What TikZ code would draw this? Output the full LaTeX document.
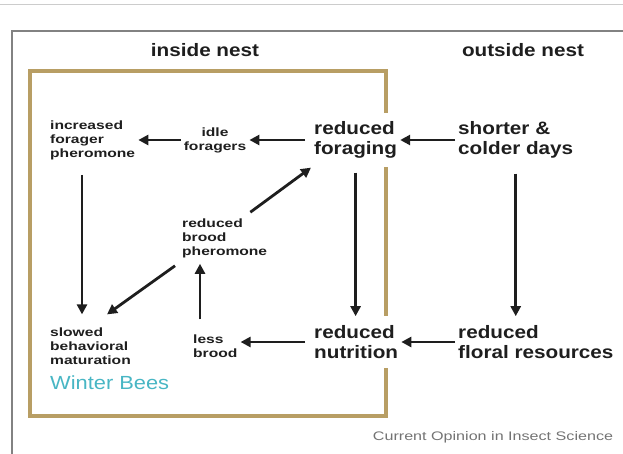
\documentclass[tikz,border=0pt]{standalone}
\usepackage{fontspec}
\setmainfont{Liberation Sans}[FakeStretch=1.15]
\newfontfamily\widesmall{Liberation Sans}[FakeStretch=1.3]
\usetikzlibrary{arrows.meta}
\definecolor{nestgold}{RGB}{184,158,100}
\definecolor{beeteal}{RGB}{72,182,196}
\definecolor{framegrey}{RGB}{130,130,130}
\definecolor{inkgrey}{RGB}{30,30,30}

\tikzset{
  big/.style={font=\fontsize{18}{20}\selectfont\bfseries, text=inkgrey, align=left, inner sep=3pt},
  small/.style={font=\widesmall\fontsize{12}{14}\selectfont\bfseries, text=inkgrey, align=left, inner sep=3pt},
  arr/.style={line width=2.8pt, draw=inkgrey, -{Triangle[length=10pt,width=10pt]}},
}

\begin{document}
\begin{tikzpicture}[x=1pt,y=-1pt]
\useasboundingbox (0,0) rectangle (623,454);
% page rule and panel frame
\draw[black!20, line width=1pt] (0,5) -- (623,5);
\draw[framegrey, line width=1.3pt] (12,454) -- (12,31) -- (623,31);
% nest box
\draw[nestgold, line width=3.8pt] (30,71) rectangle (386,416);
% headings
\node[big] (inhead) at (205,50) {inside nest};
\node[big] (outhead) at (523,50) {outside nest};
% outside nest
\node[big, anchor=west] (days) at (455,140) {shorter \&\\colder days};
\node[big, anchor=west] (floral) at (455,342) {reduced\\floral resources};
% inside nest
\node[big, anchor=west, fill=white, inner ysep=9pt] (forag) at (311,140) {reduced\\foraging};
\node[big, anchor=west, fill=white, inner ysep=9pt] (nutr) at (311,342) {reduced\\nutrition};
\node[small, align=center] (idle) at (215,140) {idle\\foragers};
\node[small, anchor=west] (fphero) at (47,140) {increased\\forager\\pheromone};
\node[small, anchor=west] (bphero) at (179,238) {reduced\\brood\\pheromone};
\node[small, anchor=west] (slow) at (47,346) {slowed\\behavioral\\maturation};
\node[small, anchor=west] (less) at (190,346) {less\\brood};
\node[anchor=west, inner sep=3pt, text=beeteal, font=\fontsize{19}{22}\selectfont] (winter) at (47,383) {Winter Bees};
% credit
\node[font=\widesmall\fontsize{12.4}{14}\selectfont, text=black!55] (credit) at (493,437) {Current Opinion in Insect Science};
% arrows
\draw[arr] (days) -- (forag);
\draw[arr, shorten <=6pt] (forag) -- (idle);
\draw[arr] (idle) -- (fphero);
\draw[arr, shorten <=12pt, shorten >=10pt] ([xshift=35pt]fphero.south west) -- ([xshift=35pt]fphero.south west |- slow.north);
\draw[arr, shorten <=5pt] (forag.south) -- (forag.south |- nutr.north);
\draw[arr, shorten <=12pt, shorten >=6pt] (days.south) -- (days.south |- floral.north);
\draw[arr] (floral) -- (nutr);
\draw[arr, shorten <=6pt] (nutr.west) -- (nutr.west -| less.east);
\draw[arr, shorten >=3pt] ([xshift=10pt,yshift=12pt]less.north west) -- ([xshift=10pt]less.north west |- bphero.south);
\draw[arr] ([xshift=-20pt,yshift=3pt]bphero.north east) -- (forag.south west);
\draw[arr] ([xshift=-4pt,yshift=-5pt]bphero.south west) -- ([xshift=60pt,yshift=10pt]slow.north west);
\end{tikzpicture}
\end{document}
